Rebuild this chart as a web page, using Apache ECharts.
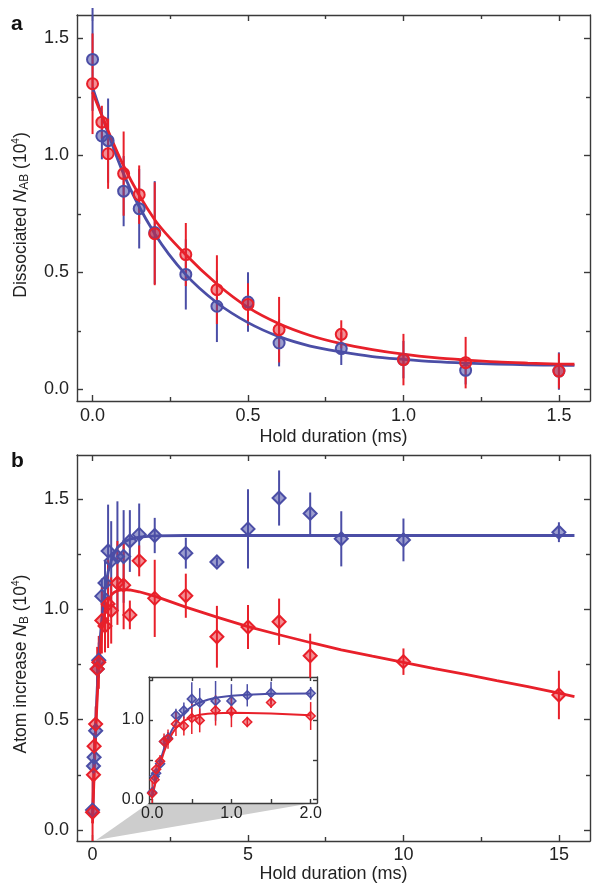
<!DOCTYPE html>
<html><head><meta charset="utf-8">
<script src="https://cdn.jsdelivr.net/npm/echarts@6/dist/echarts.min.js"></script>
<style>html,body{margin:0;padding:0;background:#fff}#c{width:592px;height:884px}</style>
</head><body><div id="c"></div>
<script>
// ---------- Panel a data ----------
const holdA    = [0, 0.03, 0.05, 0.1, 0.15, 0.2, 0.3, 0.4, 0.5, 0.6, 0.8, 1.0, 1.2, 1.5];
const blueA    = [1.41, 1.083, 1.063, 0.847, 0.772, 0.67, 0.491, 0.355, 0.373, 0.198, 0.174, 0.127, 0.081, 0.078];
const blueAErr = [0.22, 0.10, 0.18, 0.15, 0.17, 0.22, 0.15, 0.153, 0.127, 0.10, 0.07, 0.08, 0.06, 0.08];
const redA     = [1.306, 1.142, 1.007, 0.922, 0.832, 0.665, 0.576, 0.426, 0.363, 0.255, 0.235, 0.127, 0.114, 0.078];
const redAErr  = [0.215, 0.07, 0.15, 0.18, 0.125, 0.22, 0.135, 0.147, 0.09, 0.14, 0.06, 0.11, 0.11, 0.075];
const fitAX    = [0, 0.1, 0.2, 0.3, 0.4, 0.5, 0.6, 0.7, 0.8, 0.9, 1.0, 1.1, 1.2, 1.3, 1.4, 1.5, 1.55];
const fitABlue = [1.29, 0.92, 0.665, 0.49, 0.37, 0.285, 0.225, 0.185, 0.16, 0.14, 0.128, 0.118, 0.112, 0.108, 0.105, 0.103, 0.102];
const fitARed  = [1.27, 0.955, 0.725, 0.575, 0.45, 0.35, 0.28, 0.23, 0.195, 0.17, 0.15, 0.135, 0.125, 0.117, 0.112, 0.108, 0.107];

// ---------- Panel b data ----------
const holdBBlue = [0, 0.03, 0.05, 0.1, 0.15, 0.2, 0.3, 0.4, 0.5, 0.6, 0.8, 1.0, 1.2, 1.5, 2, 3, 4, 5, 6, 7, 8, 10, 15];
const blueB     = [0.09, 0.29, 0.33, 0.45, 0.73, 0.77, 1.06, 1.12, 1.265, 1.22, 1.24, 1.24, 1.31, 1.34, 1.335, 1.255, 1.215, 1.365, 1.505, 1.435, 1.32, 1.315, 1.35];
const blueBErr  = [0.02, 0.03, 0.03, 0.04, 0.06, 0.08, 0.08, 0.10, 0.21, 0.18, 0.25, 0.21, 0.14, 0.14, 0.08, 0.07, 0.02, 0.18, 0.125, 0.095, 0.125, 0.097, 0.045];
const holdBRed  = [0, 0.03, 0.05, 0.1, 0.15, 0.2, 0.3, 0.4, 0.5, 0.6, 0.8, 1.0, 1.2, 1.5, 2, 3, 4, 5, 6, 7, 10, 15];
const redB      = [0.08, 0.25, 0.38, 0.48, 0.73, 0.76, 0.95, 0.925, 1.025, 0.995, 1.12, 1.11, 0.975, 1.22, 1.05, 1.062, 0.876, 0.92, 0.944, 0.79, 0.763, 0.612];
const redBErr   = [0.15, 0.06, 0.06, 0.08, 0.10, 0.12, 0.15, 0.12, 0.20, 0.15, 0.19, 0.20, 0.065, 0.07, 0.175, 0.10, 0.14, 0.10, 0.105, 0.10, 0.06, 0.11];
const fitBX     = [0, 0.05, 0.1, 0.15, 0.2, 0.25, 0.3, 0.4, 0.5, 0.6, 0.7, 0.8, 1.0, 1.2, 1.5, 2, 3, 4, 5, 6, 7, 8, 9, 10, 11, 12, 13, 14, 15, 15.5];
const fitBBlue  = [0.05, 0.28, 0.48, 0.64, 0.77, 0.875, 0.96, 1.09, 1.17, 1.22, 1.255, 1.28, 1.305, 1.318, 1.328, 1.333, 1.335, 1.335, 1.335, 1.335, 1.335, 1.335, 1.335, 1.335, 1.335, 1.335, 1.335, 1.335, 1.335, 1.335];
const fitBRed   = [0.03, 0.25, 0.44, 0.60, 0.73, 0.825, 0.90, 0.99, 1.04, 1.065, 1.078, 1.085, 1.09, 1.088, 1.08, 1.06, 1.01, 0.965, 0.922, 0.885, 0.85, 0.817, 0.788, 0.76, 0.732, 0.705, 0.677, 0.65, 0.62, 0.605];

// ---------- tick labels ----------
const ticksA_X = [0, 0.5, 1.0, 1.5], minorA_X = [0.25, 0.75, 1.25];
const ticksA_Y = [0, 0.5, 1.0, 1.5], minorA_Y = [0.25, 0.75, 1.25];
const ticksB_X = [0, 5, 10, 15],     minorB_X = [2.5, 7.5, 12.5];
const ticksB_Y = [0, 0.5, 1.0, 1.5], minorB_Y = [0.25, 0.75, 1.25];
const labelsIn_X = [0, 1, 2], ticksIn_X = [0, 0.5, 1, 1.5, 2];
const labelsIn_Y = [0, 1],    ticksIn_Y = [0, 0.5, 1, 1.5];

const FONT = "'Liberation Sans', Arial, Helvetica, sans-serif";
const AX = '#3a3a3a';
const BLUE = '#4b4ea6', RED = '#e8202a';
const BLUE_F = 'rgba(75,78,166,0.55)', RED_F = 'rgba(232,32,42,0.5)';

const chart = echarts.init(document.getElementById('c'), null, {renderer: 'canvas'});

const xAxes = [], yAxes = [];
function addAxes(list, grid, dim, min, max, majors, minors, labels, fmt, o) {
  const isX = dim === 'x';
  const pm = isX ? 'bottom' : 'left', po = isX ? 'top' : 'right';
  const base = {type: 'value', gridIndex: grid, min, max, splitLine: {show: false}, scale: false};
  const line = {show: true, onZero: false, lineStyle: {color: AX, width: 1.4}};
  const tk = (vals, len) => ({show: true, inside: true, length: len, customValues: vals, lineStyle: {color: AX, width: 1.4}});
  list.push(Object.assign({}, base, {
    position: pm, axisLine: line, axisTick: tk(majors, o.major),
    axisLabel: {show: true, customValues: labels, formatter: fmt, margin: o.margin, fontSize: o.fs, color: '#222', fontFamily: FONT},
    name: o.name || '', nameLocation: 'middle', nameGap: o.nameGap || 0, nameTextStyle: o.nameStyle || {}
  }));
  list.push(Object.assign({}, base, {position: pm, axisLine: {show: false, onZero: false}, axisTick: minors.length ? tk(minors, o.minor) : {show: false}, axisLabel: {show: false}}));
  list.push(Object.assign({}, base, {position: po, axisLine: line, axisTick: tk(majors, o.major), axisLabel: {show: false}}));
  list.push(Object.assign({}, base, {position: po, axisLine: {show: false, onZero: false}, axisTick: minors.length ? tk(minors, o.minor) : {show: false}, axisLabel: {show: false}}));
}
const f1 = v => v.toFixed(1);
const f0 = v => String(Math.round(v));
const nameStyle = (pad) => ({
  fontSize: 17.5, fontFamily: FONT, color: '#222', padding: pad,
  rich: {
    i: {fontSize: 17.5, fontStyle: 'italic', fontFamily: FONT, color: '#222'},
    sub: {fontSize: 12, fontFamily: FONT, color: '#222', padding: [8, 0, 0, 0]},
    sup: {fontSize: 10, fontFamily: FONT, color: '#222', padding: [0, 0, 9, 0]}
  }
});
const xNameStyle = {fontSize: 18, fontFamily: FONT, color: '#222'};

// grid 0: panel a
addAxes(xAxes, 0, 'x', -0.05, 1.6, ticksA_X, minorA_X, ticksA_X, f1, {major: 6, minor: 4, margin: 6, fs: 18, name: 'Hold duration (ms)', nameGap: 27, nameStyle: xNameStyle});
addAxes(yAxes, 0, 'y', -0.05, 1.6, ticksA_Y, minorA_Y, ticksA_Y, f1, {major: 6, minor: 4, margin: 8, fs: 18, name: 'Dissociated {i|N}{sub|AB} (10{sup|4})', nameGap: 46, nameStyle: nameStyle([0, 14, 0, 0])});
// grid 1: panel b
addAxes(xAxes, 1, 'x', -0.5, 16, ticksB_X, minorB_X, ticksB_X, f0, {major: 6, minor: 4, margin: 5, fs: 18, name: 'Hold duration (ms)', nameGap: 22, nameStyle: xNameStyle});
addAxes(yAxes, 1, 'y', -0.05, 1.7, ticksB_Y, minorB_Y, ticksB_Y, f1, {major: 6, minor: 4, margin: 8, fs: 18, name: 'Atom increase {i|N}{sub|B} (10{sup|4})', nameGap: 46, nameStyle: nameStyle([0, 32, 0, 0])});
// grid 2: inset
addAxes(xAxes, 2, 'x', -0.04, 2.08, ticksIn_X, [], labelsIn_X, f1, {major: 4, minor: 3, margin: 3, fs: 16});
addAxes(yAxes, 2, 'y', -0.043, 1.54, ticksIn_Y, [], labelsIn_Y, f1, {major: 4, minor: 3, margin: 5, fs: 16});

function pairs(xs, ys) { return xs.map((x, i) => [x, ys[i]]); }
function errSeries(g, xs, ys, es, color, width, clamp) {
  return {
    type: 'custom', xAxisIndex: 4 * g, yAxisIndex: 4 * g, silent: true, z: 2,
    data: xs.map((x, i) => [x, ys[i], es[i]]),
    encode: {x: 0, y: 1},
    renderItem: function (params, api) {
      const x = api.value(0), y = api.value(1), e = api.value(2);
      const p1 = api.coord([x, y - e]), p2 = api.coord([x, y + e]);
      let y1 = p1[1], y2 = p2[1];
      if (clamp) {
        const cs = params.coordSys;
        y1 = Math.min(Math.max(y1, cs.y), cs.y + cs.height);
        y2 = Math.min(Math.max(y2, cs.y), cs.y + cs.height);
      }
      return {type: 'line', shape: {x1: p1[0], y1: y1, x2: p2[0], y2: y2}, style: {stroke: color, lineWidth: width}};
    }
  };
}
function fitSeries(g, xs, ys, color, width, smooth) {
  return {type: 'line', xAxisIndex: 4 * g, yAxisIndex: 4 * g, data: pairs(xs, ys), showSymbol: false, symbol: 'none',
    smooth: smooth, lineStyle: {color: color, width: width}, silent: true, z: 2};
}
function ptSeries(g, xs, ys, sym, size, color, fill, bw) {
  return {type: 'scatter', xAxisIndex: 4 * g, yAxisIndex: 4 * g, data: pairs(xs, ys), symbol: sym, symbolSize: size,
    itemStyle: {color: fill, borderColor: color, borderWidth: bw, opacity: 1}, silent: true, z: 3};
}
function inRange(xs, ...arrs) {
  const idx = xs.map((x, i) => i).filter(i => xs[i] <= 2.0);
  return [idx.map(i => xs[i])].concat(arrs.map(a => idx.map(i => a[i])));
}

const series = [];
// panel a
series.push(fitSeries(0, fitAX, fitABlue, BLUE, 2.8, 0.3));
series.push(fitSeries(0, fitAX, fitARed, RED, 2.8, 0.3));
series.push(errSeries(0, holdA, blueA, blueAErr, BLUE, 2, false));
series.push(ptSeries(0, holdA, blueA, 'circle', 11, BLUE, BLUE_F, 2));
series.push(errSeries(0, holdA, redA, redAErr, RED, 2, false));
series.push(ptSeries(0, holdA, redA, 'circle', 11, RED, RED_F, 2));
// panel b
series.push(fitSeries(1, fitBX, fitBBlue, BLUE, 2.8, false));
series.push(fitSeries(1, fitBX, fitBRed, RED, 2.8, false));
series.push(errSeries(1, holdBBlue, blueB, blueBErr, BLUE, 2, true));
series.push(ptSeries(1, holdBBlue, blueB, 'diamond', 13, BLUE, BLUE_F, 2));
series.push(errSeries(1, holdBRed, redB, redBErr, RED, 2, true));
series.push(ptSeries(1, holdBRed, redB, 'diamond', 13, RED, RED_F, 2));
// inset
const [ibx, iby, ibe] = inRange(holdBBlue, blueB, blueBErr);
const [irx, iry, ire] = inRange(holdBRed, redB, redBErr);
const [ifx, ifb, ifr] = inRange(fitBX, fitBBlue, fitBRed);
series.push(fitSeries(2, ifx, ifb, BLUE, 2, false));
series.push(fitSeries(2, ifx, ifr, RED, 2, false));
series.push(errSeries(2, ibx, iby, ibe, BLUE, 1.5, true));
series.push(ptSeries(2, ibx, iby, 'diamond', 9, BLUE, BLUE_F, 1.5));
series.push(errSeries(2, irx, iry, ire, RED, 1.5, true));
series.push(ptSeries(2, irx, iry, 'diamond', 9, RED, RED_F, 1.5));

const labels = [
  {type: 'text', left: 11, top: 14, style: {text: 'a', font: "bold 21px " + FONT, fill: '#111'}},
  {type: 'text', left: 11, top: 451, style: {text: 'b', font: "bold 21px " + FONT, fill: '#111'}}
];

chart.setOption({
  animation: false,
  backgroundColor: '#fff',
  grid: [
    {left: 77, top: 15, width: 513, height: 386, containLabel: false},
    {left: 77, top: 455, width: 513, height: 386, containLabel: false},
    {left: 149, top: 677, width: 168, height: 126, containLabel: false, show: true, backgroundColor: '#fff', borderWidth: 0}
  ],
  xAxis: xAxes,
  yAxis: yAxes,
  series: series,
  graphic: labels
});

// zoom wedge linking panel b (0-2 ms) to the inset
const apex = chart.convertToPixel({xAxisIndex: 4, yAxisIndex: 4}, [0.12, -0.045]);
const bl = chart.convertToPixel({xAxisIndex: 8, yAxisIndex: 8}, [-0.04, -0.043]);
const br = chart.convertToPixel({xAxisIndex: 8, yAxisIndex: 8}, [2.02, -0.043]);
chart.setOption({
  graphic: labels.concat([
    {type: 'polygon', z: -1, shape: {points: [apex, bl, br]}, style: {fill: '#cdcdcd'}, silent: true}
  ])
});
</script></body></html>
